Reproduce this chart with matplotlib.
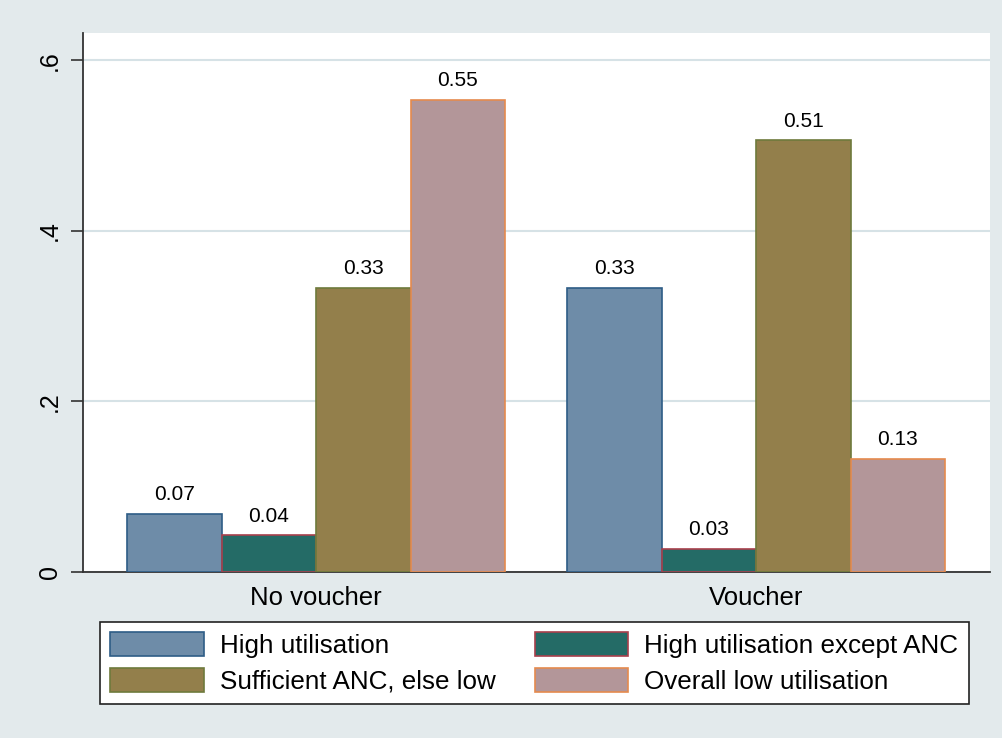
import matplotlib.pyplot as plt
from matplotlib.patches import Patch

plt.rcParams['font.family'] = ['Liberation Sans', 'DejaVu Sans']

groups = ['No voucher', 'Voucher']
series = ['High utilisation', 'High utilisation except ANC',
          'Sufficient ANC, else low', 'Overall low utilisation']
values = [
    [0.068, 0.333],   # High utilisation
    [0.043, 0.027],   # High utilisation except ANC
    [0.333, 0.506],   # Sufficient ANC, else low
    [0.554, 0.133],   # Overall low utilisation
]
labels = [
    ['0.07', '0.33'],
    ['0.04', '0.03'],
    ['0.33', '0.51'],
    ['0.55', '0.13'],
]
fills = ['#6E8CA8', '#246B66', '#937F4B', '#B39699']
edges = ['#2E5C86', '#A8404C', '#6E7A3C', '#E58A4E']

bg = '#E3EAEC'
fig = plt.figure(figsize=(10.03, 7.38), dpi=100, facecolor=bg)
ax = fig.add_axes([83/1003, 1 - 572/738, (990 - 83)/1003, (572 - 33)/738])
ax.set_facecolor('white')

group_gap = 4.656
for j in range(len(series)):
    for g in range(len(groups)):
        x = g * group_gap + j
        v = values[j][g]
        ax.bar(x, v, width=1.0, color=fills[j], edgecolor=edges[j],
               linewidth=1.2, zorder=3)
        ax.annotate(labels[j][g], (x, v), xytext=(0, 7), textcoords='offset points',
                    ha='center', va='bottom', fontsize=15, zorder=4)

ax.set_xlim(-0.966, 8.63)
ax.set_ylim(0, 0.632)
ax.set_yticks([0, 0.2, 0.4, 0.6])
ax.set_yticklabels(['0', '.2', '.4', '.6'], rotation=90, va='center', fontsize=18)
ax.set_xticks([g * group_gap + 1.5 for g in range(len(groups))])
ax.set_xticklabels(groups, fontsize=18.5)
ax.tick_params(axis='x', length=0, pad=10)
ax.tick_params(axis='y', length=9, width=1.2, color='#333333', pad=6)
ax.yaxis.grid(True, color='#D6E2E6', linewidth=1.5, zorder=0)
ax.set_axisbelow(True)
for s in ['top', 'right']:
    ax.spines[s].set_visible(False)
for s in ['left', 'bottom']:
    ax.spines[s].set_color('#333333')
    ax.spines[s].set_linewidth(1.3)

# legend filled row by row as in the original
order = [0, 2, 1, 3]
handles = [Patch(facecolor=fills[j], edgecolor=edges[j], linewidth=1.2) for j in order]
leg = fig.legend(handles, [series[j] for j in order], ncol=2, loc='upper left',
                 bbox_to_anchor=(100/1003, 1 - 622/738),
                 fontsize=18.7, frameon=True, fancybox=False, edgecolor='#222222',
                 facecolor='white', framealpha=1,
                 handlelength=3.6, handleheight=1.0, handletextpad=0.62,
                 columnspacing=1.5, labelspacing=0.4, borderpad=0.4,
                 borderaxespad=0)
leg.get_frame().set_linewidth(1.2)

fig.savefig('out.png', dpi=100, facecolor=bg)
